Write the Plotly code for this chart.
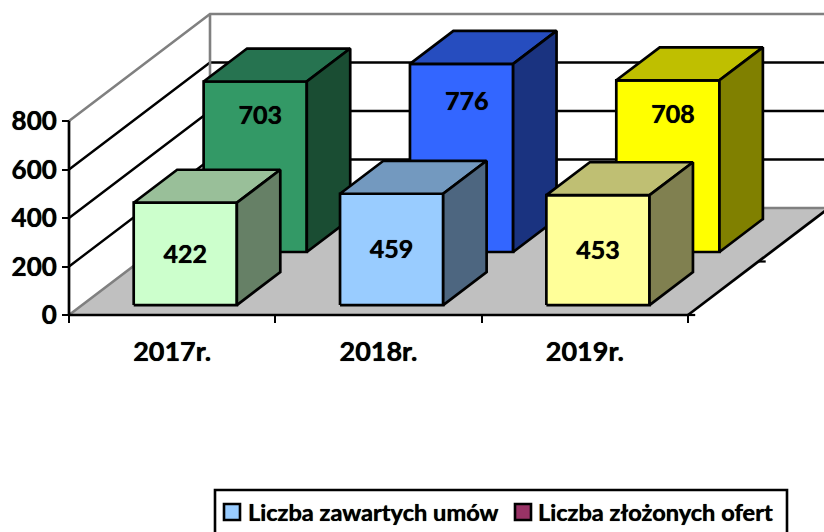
import plotly.graph_objects as go

categories = ["2017r.", "2018r.", "2019r."]
umowy = [422, 459, 453]
oferty = [703, 776, 708]
y_ticks = [0, 200, 400, 600, 800]
legend_names = ["Liczba zawartych umów", "Liczba złożonych ofert"]
legend_colors = ["#99CCFF", "#993366"]

# per-point colours: (front, top, side)
front_colors = [("#CCFFCC", "#99BF99", "#668066"), ("#99CCFF", "#7399BF", "#4D6680"), ("#FFFF99", "#BFBF73", "#808050")]
back_colors = [("#339966", "#267350", "#1A4D33"), ("#3366FF", "#264DBF", "#1A3380"), ("#FFFF00", "#BFBF00", "#808000")]

W, H = 824, 532
PX_X0, PX_Y0 = 69, 315        # origin in pixels
PX_CAT = 206.33               # pixels per category
PX_VAL = 0.2425               # pixels per value unit
DX = 141 / PX_CAT             # full depth, x data units
DY = 107 / PX_VAL             # full depth, y data units
BAR_W = 0.5
ROW_D = 0.308
FONT = "Lato"
SHADOW = "0 0 0.7px #000000"
LABEL_NUDGE = -10             # value units, centres the label glyphs
N = len(categories)

fig = go.Figure()


def project(x, v, d):
    return x + d * DX, v + d * DY


def poly(pts, fill, lw=2.7, color="#000000"):
    xs = [p[0] for p in pts]
    ys = [p[1] for p in pts]
    fig.add_trace(go.Scatter(x=xs, y=ys, mode="lines", fill="toself" if fill else None,
                             fillcolor=fill, line=dict(color=color, width=lw),
                             showlegend=False, hoverinfo="skip"))


def line(pts, color, lw):
    poly(pts, None, lw, color)


def bar(cat, value, d0, colors):
    x0, x1 = cat + (1 - BAR_W) / 2, cat + (1 + BAR_W) / 2
    d1 = d0 + ROW_D
    face, top, side = colors
    poly([project(x0, 0, d0), project(x1, 0, d0), project(x1, value, d0), project(x0, value, d0), project(x0, 0, d0)], face)
    poly([project(x0, value, d0), project(x1, value, d0), project(x1, value, d1), project(x0, value, d1), project(x0, value, d0)], top)
    poly([project(x1, 0, d0), project(x1, 0, d1), project(x1, value, d1), project(x1, value, d0), project(x1, 0, d0)], side)


# floor
poly([project(0, 0, 0), project(N, 0, 0), project(N, 0, 1), project(0, 0, 1), project(0, 0, 0)], "#C0C0C0", 0.1, "#C0C0C0")

# walls and gridlines
top = max(y_ticks)
for t in y_ticks:
    c, w = ("#808080", 2.6) if t in (0, top) else ("#000000", 2.4)
    line([project(0, t, 0), project(0, t, 1), project(N, t, 1)], c, w)
line([project(0, 0, 1), project(0, top, 1)], "#808080", 2.6)

# back row, then front row
for i, v in enumerate(oferty):
    bar(i, v, 0.589, back_colors[i])
for i, v in enumerate(umowy):
    bar(i, v, 0.093, front_colors[i])

# front axis lines
line([(0, 0), (0, top)], "#000000", 2.7)
line([(0, 0), (N, 0)], "#000000", 2.7)
line([project(N, 0, 0), project(N, 0, 1)], "#000000", 2.7)
for d in (0, 0.5):
    x, y = project(N, 0, d)
    line([(x, y), (x + 0.035, y)], "#000000", 2.2)

# value labels
lab_x, lab_y = [], []
for i, v in enumerate(umowy):
    x, y = project(i + 0.5, v * 0.5 + LABEL_NUDGE, 0.093)
    lab_x.append(x); lab_y.append(y)
for i, v in enumerate(oferty):
    x, y = project(i + 0.525, v * 0.8 + LABEL_NUDGE, 0.589)
    lab_x.append(x); lab_y.append(y)
fig.add_trace(go.Scatter(x=lab_x, y=lab_y, mode="text", text=[str(v) for v in umowy + oferty],
                         textposition="middle center", showlegend=False, hoverinfo="skip",
                         textfont=dict(family=FONT, size=25, color="#000000", weight="bold", shadow=SHADOW)))

# legend box, keys and labels (the box runs off the bottom of the picture)
def px(x):
    return x / W


def py(y):
    return (H - y) / H


shapes = [dict(type="path", xref="paper", yref="paper",
               path=f"M {px(215)} {py(532)} L {px(215)} {py(490)} L {px(787)} {py(490)} L {px(787)} {py(532)}",
               line=dict(color="#000000", width=2.6))]
annotations = []
for name, color, kx, tx in zip(legend_names, legend_colors, [224, 515], [248, 538]):
    shapes.append(dict(type="rect", xref="paper", yref="paper", x0=px(kx), x1=px(kx + 16), y0=py(520), y1=py(504),
                       fillcolor=color, line=dict(color="#000000", width=2.6)))
    annotations.append(dict(xref="paper", yref="paper", x=px(tx), y=py(512), text=name, showarrow=False,
                            xanchor="left", yanchor="middle", xshift=-2,
                            font=dict(family=FONT, size=23.6, color="#000000", weight="bold", shadow=SHADOW)))

fig.update_layout(
    width=W, height=H, margin=dict(l=0, r=0, t=0, b=0),
    paper_bgcolor="white", plot_bgcolor="white", hovermode=False, showlegend=False,
    font=dict(family=FONT, color="#000000"), shapes=shapes, annotations=annotations,
    xaxis=dict(range=[-PX_X0 / PX_CAT, (W - PX_X0) / PX_CAT], anchor="free", position=(H - PX_Y0) / H,
               tickmode="array", tickvals=[i + 0.5 for i in range(N)], ticktext=categories, ticks="",
               showgrid=False, zeroline=False, showline=False, ticklabelstandoff=18,
               tickfont=dict(family=FONT, size=27, color="#000000", weight="bold", shadow=SHADOW),
               minor=dict(tickmode="array", tickvals=list(range(N + 1)), ticks="outside", ticklen=7,
                          tickwidth=2, tickcolor="#000000", showgrid=False)),
    yaxis=dict(range=[(PX_Y0 - H) / PX_VAL, PX_Y0 / PX_VAL], anchor="free", position=PX_X0 / W,
               tickmode="array", tickvals=y_ticks, ticks="outside", ticklen=7, tickwidth=2, tickcolor="#000000",
               showgrid=False, zeroline=False, showline=False,
               tickfont=dict(family=FONT, size=26, color="#000000", weight="bold", shadow=SHADOW)),
)
fig.write_html("out.html", config=dict(displayModeBar=False),
               post_script="document.body.style.margin='0';document.body.style.overflow='hidden';")
